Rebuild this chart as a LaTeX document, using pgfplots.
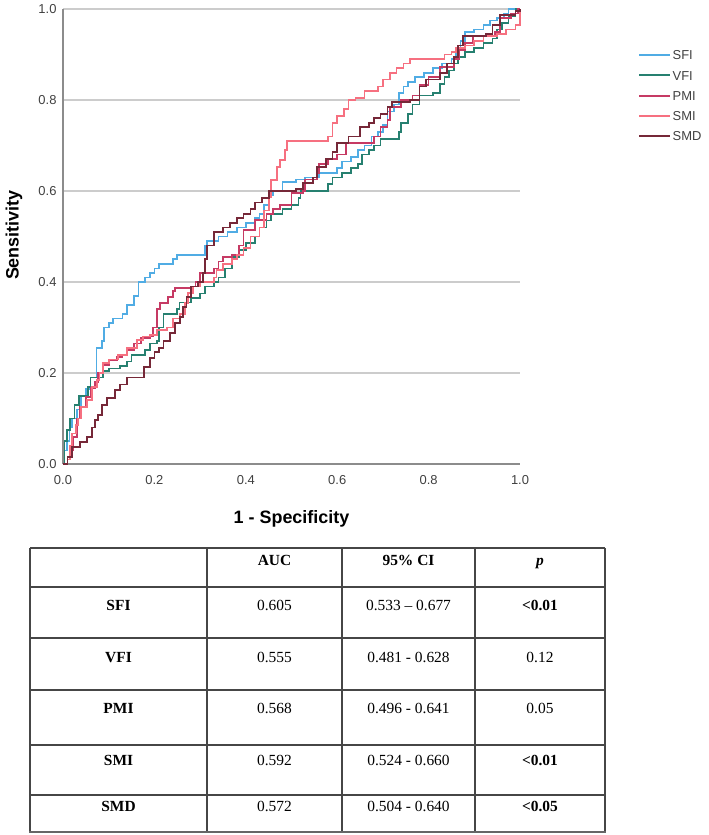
\documentclass[border=0pt]{standalone}
\usepackage{fontspec}
\setmainfont{Liberation Sans}
\newfontfamily\tablefont{Liberation Serif}
\usepackage{pgfplots}
\pgfplotsset{compat=1.18}
\definecolor{sfi}{RGB}{80,172,228}
\definecolor{vfi}{RGB}{38,128,112}
\definecolor{pmi}{RGB}{198,58,100}
\definecolor{smi}{RGB}{246,112,128}
\definecolor{smd}{RGB}{118,40,56}
\definecolor{tickc}{RGB}{64,64,64}
\definecolor{tabline}{RGB}{70,70,70}
\begin{document}
\begin{tikzpicture}[x=1bp,y=1bp]
\useasboundingbox (0,0) rectangle (709,-835);
\begin{axis}[
  at={(63bp,-464bp)}, anchor=south west,
  scale only axis, width=457bp, height=455bp,
  xmin=0, xmax=1, ymin=0, ymax=1,
  clip=false,
  axis x line*=bottom, axis y line*=left,
  axis line style={-, draw=gray!90, line width=1.4bp},
  ymajorgrids, grid style={draw=gray!40, line width=1.4bp},
  xtick={0,0.2,0.4,0.6,0.8,1}, ytick={0,0.2,0.4,0.6,0.8,1},
  major tick length=0pt,
  xticklabel style={/pgf/number format/fixed, /pgf/number format/fixed zerofill, /pgf/number format/precision=1, /pgf/number format/assume math mode=true, font=\fontsize{13}{15}\selectfont, text=tickc, yshift=-8bp},
  yticklabel style={/pgf/number format/fixed, /pgf/number format/fixed zerofill, /pgf/number format/precision=1, /pgf/number format/assume math mode=true, font=\fontsize{13}{15}\selectfont, text=tickc, xshift=-3bp},
  xlabel={1 - Specificity},
  xlabel style={at={(axis description cs:0.5,-0.12)}, anchor=center, font=\fontsize{18}{20}\selectfont\bfseries},
  ylabel={Sensitivity},
  ylabel style={at={(axis description cs:-0.107,0.503)}, anchor=center, font=\fontsize{18}{20}\selectfont\bfseries},
  legend style={at={(axis description cs:1.258,0.913)}, anchor=north west, draw=none, fill=none,
    font=\fontsize{13}{15}\selectfont, text=tickc, row sep=7.8bp, inner sep=0pt,
    nodes={inner sep=1.5bp, text height=9.5bp, text depth=0bp}},
  legend cell align=left,
  legend image code/.code={\draw[#1, line width=2bp] (0bp,0bp) -- (31bp,0bp);},
]
\addplot[const plot, sfi, line width=1.7bp] coordinates {
(0,0) (0.003,0.03) (0.008,0.05) (0.014,0.08) (0.02,0.10) (0.03,0.12) (0.04,0.15) (0.05,0.165) (0.06,0.19)
(0.073,0.255) (0.085,0.27) (0.09,0.30) (0.10,0.31) (0.11,0.32) (0.13,0.33) (0.14,0.35) (0.155,0.37) (0.165,0.40)
(0.18,0.41) (0.19,0.42) (0.20,0.43) (0.21,0.44) (0.24,0.45) (0.25,0.46) (0.31,0.48) (0.315,0.49) (0.34,0.50)
(0.36,0.51) (0.38,0.52) (0.40,0.53) (0.42,0.54) (0.43,0.55) (0.44,0.57) (0.45,0.59) (0.46,0.60) (0.48,0.62)
(0.51,0.625) (0.53,0.63) (0.56,0.64) (0.60,0.65) (0.61,0.665) (0.63,0.675) (0.645,0.69) (0.66,0.70) (0.675,0.72)
(0.69,0.73) (0.70,0.745) (0.71,0.775) (0.725,0.79) (0.735,0.815) (0.745,0.83) (0.755,0.84) (0.77,0.85) (0.79,0.86)
(0.81,0.87) (0.83,0.88) (0.85,0.89) (0.86,0.91) (0.87,0.93) (0.88,0.95) (0.90,0.955) (0.92,0.965) (0.935,0.975)
(0.95,0.98) (0.965,0.99) (0.975,1.0) (1,1)};
\addlegendentry{SFI}
\addplot[const plot, vfi, line width=1.7bp] coordinates {
(0,0) (0.003,0.05) (0.008,0.075) (0.015,0.10) (0.025,0.13) (0.035,0.15) (0.055,0.17) (0.06,0.19) (0.087,0.205)
(0.10,0.21) (0.125,0.215) (0.14,0.225) (0.15,0.24) (0.18,0.25) (0.19,0.265) (0.205,0.27) (0.21,0.30) (0.22,0.33)
(0.25,0.34) (0.255,0.355) (0.28,0.365) (0.30,0.375) (0.31,0.39) (0.33,0.40) (0.34,0.41) (0.355,0.43) (0.37,0.455)
(0.385,0.47) (0.40,0.485) (0.42,0.50) (0.43,0.52) (0.445,0.535) (0.455,0.55) (0.48,0.56) (0.50,0.57) (0.515,0.585)
(0.52,0.60) (0.58,0.615) (0.59,0.63) (0.61,0.64) (0.63,0.65) (0.645,0.66) (0.655,0.68) (0.67,0.69) (0.68,0.70)
(0.695,0.715) (0.735,0.73) (0.74,0.75) (0.755,0.77) (0.765,0.79) (0.78,0.81) (0.81,0.815) (0.825,0.835) (0.835,0.85)
(0.845,0.865) (0.855,0.88) (0.865,0.895) (0.88,0.905) (0.90,0.915) (0.92,0.925) (0.94,0.935) (0.95,0.955) (0.96,0.97)
(0.975,0.985) (0.99,1.0) (1,1)};
\addlegendentry{VFI}
\addplot[const plot, pmi, line width=1.7bp] coordinates {
(0,0) (0.01,0.01) (0.015,0.03) (0.022,0.06) (0.03,0.10) (0.037,0.125) (0.05,0.147) (0.06,0.167) (0.07,0.18)
(0.077,0.20) (0.088,0.217) (0.10,0.228) (0.118,0.235) (0.13,0.24) (0.14,0.25) (0.155,0.265) (0.17,0.277) (0.19,0.28)
(0.197,0.30) (0.205,0.34) (0.212,0.354) (0.23,0.367) (0.24,0.38) (0.245,0.387) (0.285,0.39) (0.29,0.40) (0.30,0.42)
(0.33,0.43) (0.34,0.445) (0.35,0.455) (0.37,0.46) (0.385,0.48) (0.395,0.514) (0.42,0.536) (0.445,0.55) (0.46,0.56)
(0.475,0.57) (0.50,0.595) (0.525,0.60) (0.53,0.625) (0.556,0.64) (0.56,0.66) (0.58,0.67) (0.60,0.68) (0.62,0.705)
(0.68,0.72) (0.695,0.74) (0.71,0.756) (0.715,0.785) (0.74,0.80) (0.765,0.81) (0.78,0.833) (0.80,0.85) (0.825,0.873)
(0.855,0.89) (0.866,0.91) (0.88,0.925) (0.897,0.94) (0.945,0.95) (0.956,0.98) (0.98,0.99) (0.995,1.0) (1,1)};
\addlegendentry{PMI}
\addplot[const plot, smi, line width=1.7bp] coordinates {
(0,0) (0.01,0.01) (0.015,0.04) (0.02,0.067) (0.028,0.085) (0.033,0.10) (0.04,0.125) (0.052,0.14) (0.063,0.17)
(0.074,0.185) (0.08,0.20) (0.088,0.222) (0.10,0.23) (0.12,0.24) (0.14,0.255) (0.162,0.272) (0.175,0.28) (0.19,0.283)
(0.205,0.295) (0.228,0.30) (0.24,0.32) (0.256,0.33) (0.267,0.354) (0.274,0.376) (0.285,0.39) (0.30,0.40) (0.33,0.41)
(0.336,0.426) (0.35,0.44) (0.37,0.45) (0.38,0.46) (0.395,0.475) (0.41,0.50) (0.43,0.52) (0.44,0.557) (0.45,0.587)
(0.455,0.624) (0.468,0.653) (0.475,0.668) (0.485,0.69) (0.49,0.71) (0.58,0.72) (0.59,0.75) (0.60,0.765) (0.615,0.78)
(0.625,0.80) (0.64,0.805) (0.66,0.82) (0.69,0.83) (0.70,0.845) (0.715,0.86) (0.73,0.87) (0.745,0.88) (0.76,0.89)
(0.835,0.90) (0.85,0.905) (0.86,0.915) (0.88,0.92) (0.90,0.93) (0.92,0.94) (0.95,0.945) (0.97,0.955) (0.99,0.965)
(1.0,1.0)};
\addlegendentry{SMI}
\addplot[const plot, smd, line width=1.7bp] coordinates {
(0,0) (0.01,0.015) (0.02,0.037) (0.037,0.048) (0.052,0.06) (0.063,0.08) (0.07,0.097) (0.077,0.108) (0.085,0.13)
(0.096,0.145) (0.114,0.163) (0.125,0.175) (0.14,0.19) (0.178,0.213) (0.19,0.233) (0.20,0.246) (0.21,0.255) (0.22,0.27)
(0.234,0.288) (0.245,0.31) (0.256,0.323) (0.263,0.345) (0.27,0.367) (0.28,0.39) (0.295,0.40) (0.307,0.42) (0.31,0.45)
(0.315,0.48) (0.33,0.51) (0.35,0.52) (0.365,0.53) (0.38,0.54) (0.395,0.55) (0.41,0.56) (0.42,0.575) (0.435,0.585)
(0.45,0.60) (0.51,0.605) (0.525,0.617) (0.547,0.63) (0.556,0.653) (0.575,0.67) (0.59,0.685) (0.60,0.705) (0.625,0.72)
(0.65,0.74) (0.67,0.75) (0.68,0.76) (0.695,0.77) (0.71,0.785) (0.72,0.795) (0.76,0.80) (0.78,0.83) (0.795,0.845)
(0.825,0.86) (0.84,0.88) (0.855,0.895) (0.865,0.92) (0.875,0.94) (0.925,0.945) (0.94,0.965) (0.956,0.987) (0.99,0.995)
(1,1)};
\addlegendentry{SMD}
\end{axis}
% table
\begin{scope}[line width=1.2bp, draw=tabline]
\draw (30,-548) -- (605,-548);
\foreach \yy in {587,638,690,745,795} {\draw (30,-\yy) -- (605,-\yy);}
\draw (30,-548) -- (30,-832);
\draw (605,-548) -- (605,-832);
\foreach \xx in {207,342,475} {\draw (\xx,-548) -- (\xx,-832);}
\draw[line width=2.4bp, draw=gray!80!black] (29,-832) -- (606,-832);
\end{scope}
\begin{scope}[every node/.style={anchor=base, inner sep=0pt, font=\tablefont\fontsize{15.5}{17}\selectfont}]
\node at (274.5,-565) {\bfseries AUC};
\node at (408.5,-565) {\bfseries 95\% CI};
\node at (540,-565) {\bfseries\itshape p};
\node at (118.5,-610) {\bfseries SFI};
\node at (274.5,-610) {0.605};
\node at (408.5,-610) {0.533 – 0.677};
\node at (540,-610) {\bfseries <0.01};
\node at (118.5,-662) {\bfseries VFI};
\node at (274.5,-662) {0.555};
\node at (408.5,-662) {0.481 - 0.628};
\node at (540,-662) {0.12};
\node at (118.5,-713) {\bfseries PMI};
\node at (274.5,-713) {0.568};
\node at (408.5,-713) {0.496 - 0.641};
\node at (540,-713) {0.05};
\node at (118.5,-765) {\bfseries SMI};
\node at (274.5,-765) {0.592};
\node at (408.5,-765) {0.524 - 0.660};
\node at (540,-765) {\bfseries <0.01};
\node at (118.5,-811) {\bfseries SMD};
\node at (274.5,-811) {0.572};
\node at (408.5,-811) {0.504 - 0.640};
\node at (540,-811) {\bfseries <0.05};
\end{scope}
\end{tikzpicture}
\end{document}
